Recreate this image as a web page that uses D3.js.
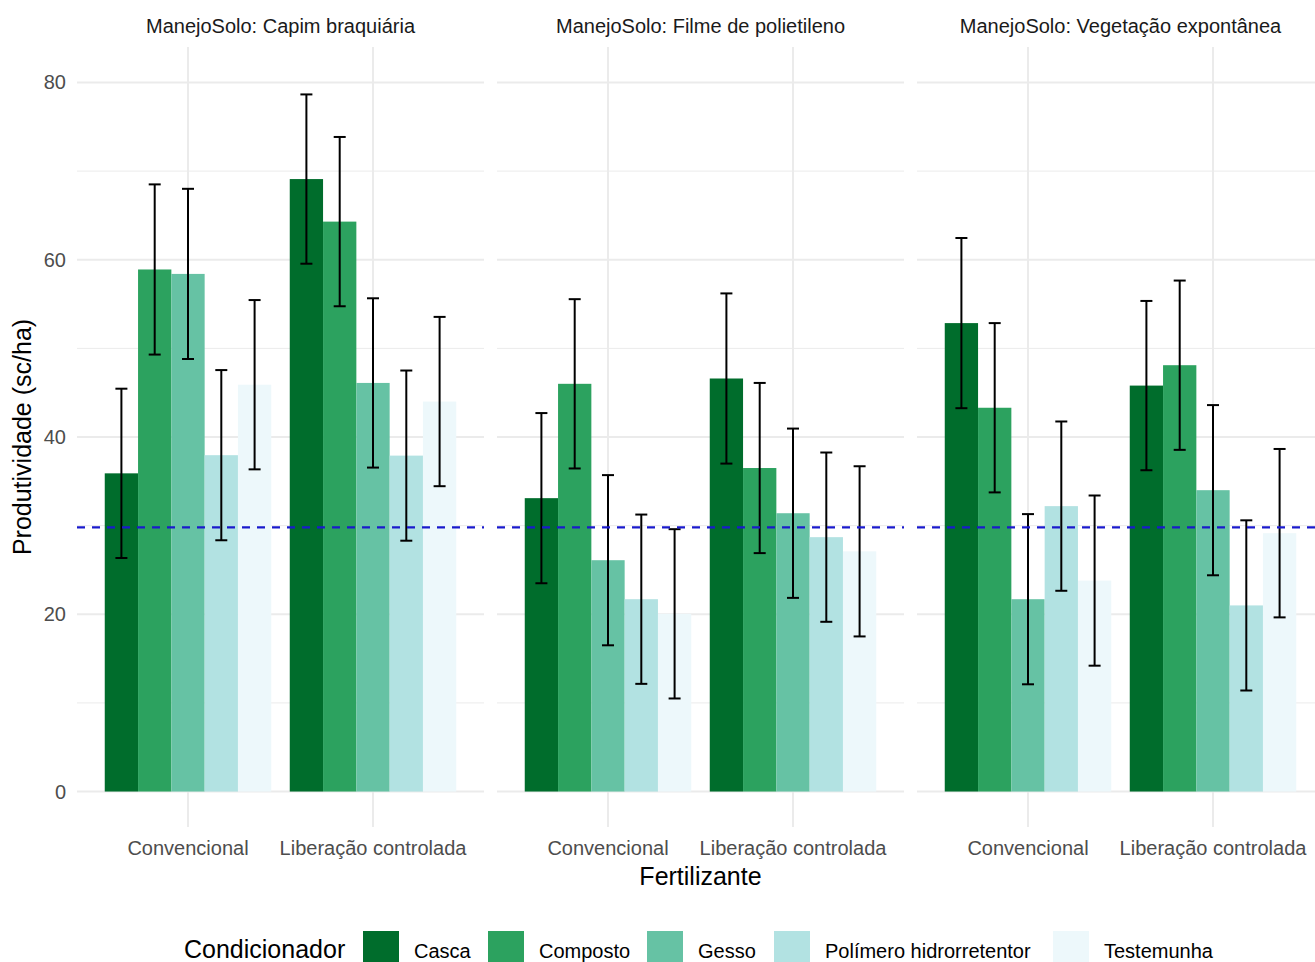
<!DOCTYPE html>
<html>
<head>
<meta charset="utf-8">
<script src="https://cdn.jsdelivr.net/npm/d3@7"></script>
<style>
  body { margin: 0; background: #fff; }
  text { font-family: "Liberation Sans", Arial, sans-serif; }
</style>
</head>
<body>
<div id="chart"></div>
<script>
const manejos = ['Capim braquiária', 'Filme de polietileno', 'Vegetação expontânea'];
const fertilizantes = ['Convencional', 'Liberação controlada'];
const condicionadores = ['Casca', 'Composto', 'Gesso', 'Polímero hidrorretentor', 'Testemunha'];

// médias: Convencional (5 condicionadores) e depois Liberação controlada (5)
const mediaCapim = [35.9, 58.9, 58.4, 37.95, 45.9, 69.1, 64.3, 46.1, 37.9, 44.0];
const mediaFilme = [33.1, 46.0, 26.1, 21.7, 20.05, 46.6, 36.5, 31.4, 28.7, 27.1];
const mediaVegetacao = [52.85, 43.3, 21.7, 32.2, 23.8, 45.8, 48.1, 34.0, 21.0, 29.15];

// meia-amplitude das barras de erro
const erroCapim = [9.55, 9.6, 9.6, 9.6, 9.55, 9.55, 9.55, 9.55, 9.6, 9.55];
const erroFilme = [9.6, 9.55, 9.6, 9.55, 9.55, 9.6, 9.6, 9.55, 9.55, 9.6];
const erroVegetacao = [9.6, 9.55, 9.6, 9.55, 9.6, 9.55, 9.55, 9.6, 9.6, 9.5];

const referencia = 29.8;
const yTicks = [0, 20, 40, 60, 80];
const yMinor = [10, 30, 50, 70];

const medias = [mediaCapim, mediaFilme, mediaVegetacao];
const erros = [erroCapim, erroFilme, erroVegetacao];

const cores = ['#006d2c', '#2ca25f', '#66c2a4', '#b2e2e2', '#edf8fb'];

const width = 1315, height = 962;
const panelLeft = 77, panelW = 407, panelGap = 13;
const panelTop = 47, panelBottom = 827;

const svg = d3.select('#chart').append('svg')
  .attr('width', width)
  .attr('height', height);

const y = d3.scaleLinear()
  .domain([-4, 84])
  .range([panelBottom, panelTop]);

const color = d3.scaleOrdinal()
  .domain(condicionadores)
  .range(cores);

manejos.forEach((m, p) => {
  const x0 = panelLeft + p * (panelW + panelGap);
  const g = svg.append('g');

  // posição discreta com expansão de 0.6 de cada lado
  const x = d3.scaleLinear().domain([0.4, 2.6]).range([x0, x0 + panelW]);
  const unit = x(1) - x(0);
  const inner = d3.scaleBand()
    .domain(condicionadores)
    .range([-0.45 * unit, 0.45 * unit]);

  const rows = [];
  fertilizantes.forEach((f, i) => {
    condicionadores.forEach((c, j) => {
      const k = i * condicionadores.length + j;
      rows.push({ f, fi: i + 1, c, mean: medias[p][k], err: erros[p][k] });
    });
  });

  // grade
  g.selectAll('.minor').data(yMinor).join('line')
    .attr('x1', x0).attr('x2', x0 + panelW)
    .attr('y1', d => y(d)).attr('y2', d => y(d))
    .attr('stroke', '#ebebeb').attr('stroke-width', 1);
  g.selectAll('.major').data(yTicks).join('line')
    .attr('x1', x0).attr('x2', x0 + panelW)
    .attr('y1', d => y(d)).attr('y2', d => y(d))
    .attr('stroke', '#ebebeb').attr('stroke-width', 2);
  g.selectAll('.vgrid').data(fertilizantes).join('line')
    .attr('x1', (d, i) => x(i + 1)).attr('x2', (d, i) => x(i + 1))
    .attr('y1', panelTop).attr('y2', panelBottom)
    .attr('stroke', '#ebebeb').attr('stroke-width', 2);

  // barras
  g.selectAll('rect').data(rows).join('rect')
    .attr('x', d => x(d.fi) + inner(d.c))
    .attr('width', inner.bandwidth())
    .attr('y', d => y(d.mean))
    .attr('height', d => y(0) - y(d.mean))
    .attr('fill', d => color(d.c));

  // barras de erro
  const eb = g.selectAll('.eb').data(rows).join('g')
    .attr('stroke', '#000').attr('stroke-width', 2);
  const cx = d => x(d.fi) + inner(d.c) + inner.bandwidth() / 2;
  eb.append('line')
    .attr('x1', cx).attr('x2', cx)
    .attr('y1', d => y(d.mean + d.err)).attr('y2', d => y(d.mean - d.err));
  eb.append('line')
    .attr('x1', d => cx(d) - 6).attr('x2', d => cx(d) + 6)
    .attr('y1', d => y(d.mean + d.err)).attr('y2', d => y(d.mean + d.err));
  eb.append('line')
    .attr('x1', d => cx(d) - 6).attr('x2', d => cx(d) + 6)
    .attr('y1', d => y(d.mean - d.err)).attr('y2', d => y(d.mean - d.err));

  // linha de referência
  g.append('line')
    .attr('x1', x0).attr('x2', x0 + panelW)
    .attr('y1', y(referencia)).attr('y2', y(referencia))
    .attr('stroke', '#1a1acc').attr('stroke-width', 2.3)
    .attr('stroke-dasharray', '8,7');

  // rótulos do eixo x
  g.selectAll('.xlab').data(fertilizantes).join('text')
    .attr('x', (d, i) => x(i + 1)).attr('y', 855)
    .attr('text-anchor', 'middle')
    .attr('font-size', 20).attr('fill', '#4d4d4d')
    .text(d => d);

  // título da faceta
  g.append('text')
    .attr('x', x0 + panelW / 2).attr('y', 33)
    .attr('text-anchor', 'middle')
    .attr('font-size', 20).attr('fill', '#1a1a1a')
    .text('ManejoSolo: ' + m);
});

// eixo y (apenas painel da esquerda)
svg.append('g').selectAll('text').data(yTicks).join('text')
  .attr('x', 66).attr('y', d => y(d))
  .attr('dy', '0.35em')
  .attr('text-anchor', 'end')
  .attr('font-size', 20).attr('fill', '#4d4d4d')
  .text(d => d);

svg.append('text')
  .attr('transform', `translate(31,${(panelTop + panelBottom) / 2}) rotate(-90)`)
  .attr('text-anchor', 'middle')
  .attr('font-size', 25).attr('fill', '#000')
  .text('Produtividade (sc/ha)');

svg.append('text')
  .attr('x', panelLeft + (3 * panelW + 2 * panelGap) / 2).attr('y', 885)
  .attr('text-anchor', 'middle')
  .attr('font-size', 25).attr('fill', '#000')
  .text('Fertilizante');

// legenda
const legendX = [363, 488, 647, 774, 1053];
const legend = svg.append('g');
legend.append('text')
  .attr('x', 184).attr('y', 958)
  .attr('font-size', 25).attr('fill', '#000')
  .text('Condicionador');
const items = legend.selectAll('.item').data(condicionadores).join('g')
  .attr('transform', (d, i) => `translate(${legendX[i]},931)`);
items.append('rect')
  .attr('width', 36).attr('height', 36)
  .attr('fill', d => color(d));
items.append('text')
  .attr('x', 51).attr('y', 27)
  .attr('font-size', 20).attr('fill', '#000')
  .text(d => d);
</script>
</body>
</html>
